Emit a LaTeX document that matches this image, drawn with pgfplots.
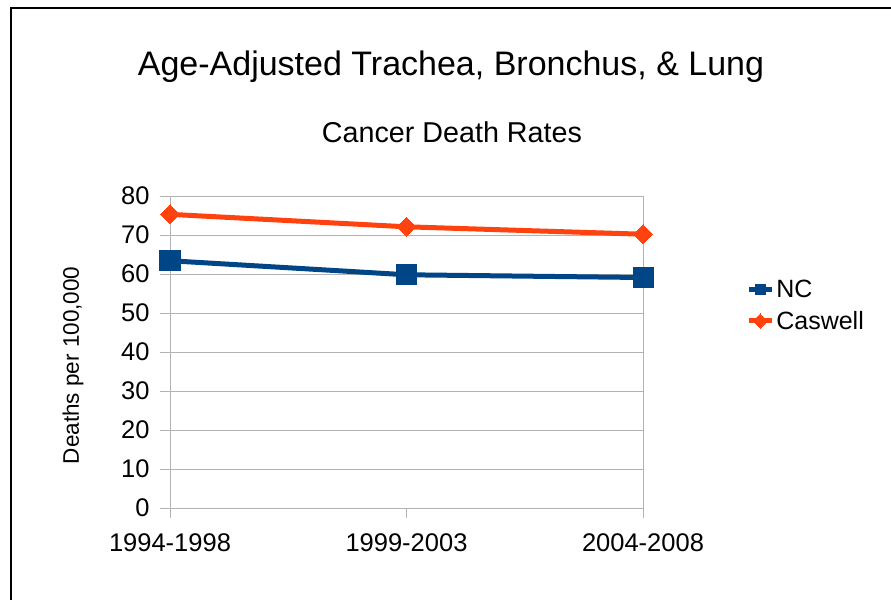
\documentclass[border=0pt]{standalone}
\usepackage{fontspec}
\setmainfont{Liberation Sans}
\usepackage{pgfplots}
\pgfplotsset{compat=1.18}
\definecolor{ncblue}{HTML}{004586}
\definecolor{casorange}{HTML}{FF420E}
\definecolor{axgray}{HTML}{B3B3B3}
\begin{document}
\begin{tikzpicture}
\useasboundingbox (0,0) rectangle (891bp,600bp);
\draw[line width=1.3bp] (11bp,-10bp) -- (11bp,592bp) -- (892bp,592bp);
\node[anchor=base, font=\fontsize{34bp}{38bp}\selectfont] at (451bp,524bp) {Age-Adjusted Trachea, Bronchus, \& Lung};
\node[anchor=base, font=\fontsize{28.7bp}{32bp}\selectfont] at (452bp,457bp) {Cancer Death Rates};
\begin{axis}[
  at={(170bp,92bp)}, anchor=south west,
  scale only axis, width=473bp, height=312bp,
  xmin=0, xmax=2, ymin=0, ymax=80,
  xtick={0,1,2}, xticklabels={1994-1998,1999-2003,2004-2008},
  ytick={0,10,...,80},
  /pgf/number format/assume math mode=true,
  axis line style={axgray, line width=0.8bp},
  ymajorgrids, grid style={axgray, line width=0.8bp},
  tick style={axgray, line width=0.8bp},
  tick align=outside, major tick length=10bp,
  xtick pos=bottom, ytick pos=left,
  ticklabel style={font=\fontsize{25.5bp}{29bp}\selectfont, text=black},
  xticklabel style={yshift=-12bp},
  yticklabel style={xshift=-7bp},
  ylabel={Deaths per 100,000},
  ylabel style={font=\fontsize{22.5bp}{26bp}\selectfont, at={(axis description cs:-0.205,0.457)}, anchor=center},
  legend style={draw=none, fill=none, at={(1.218,0.649)}, anchor=west, font=\fontsize{25bp}{29bp}\selectfont, row sep=8bp, inner sep=0pt},
  legend cell align=left,
  legend image code/.code={
    \draw[#1, mark=none] (0bp,0bp) -- (23bp,0bp);
    \path[#1, mark size=5bp] plot coordinates {(11.5bp,0bp)};
  },
]
\addplot[ncblue, line width=5bp, mark=square*, mark size=10bp, mark options={solid, fill=ncblue, draw=ncblue, line width=0pt}]
  coordinates {(0,63.4) (1,59.8) (2,59.1)};
\addlegendentry{NC}
\addplot[casorange, line width=5bp, mark=square*, mark size=6.7bp, mark options={solid, rotate=45, fill=casorange, draw=casorange, line width=0pt}]
  coordinates {(0,75.3) (1,72.1) (2,70.2)};
\addlegendentry{Caswell}
\end{axis}
\end{tikzpicture}
\end{document}
